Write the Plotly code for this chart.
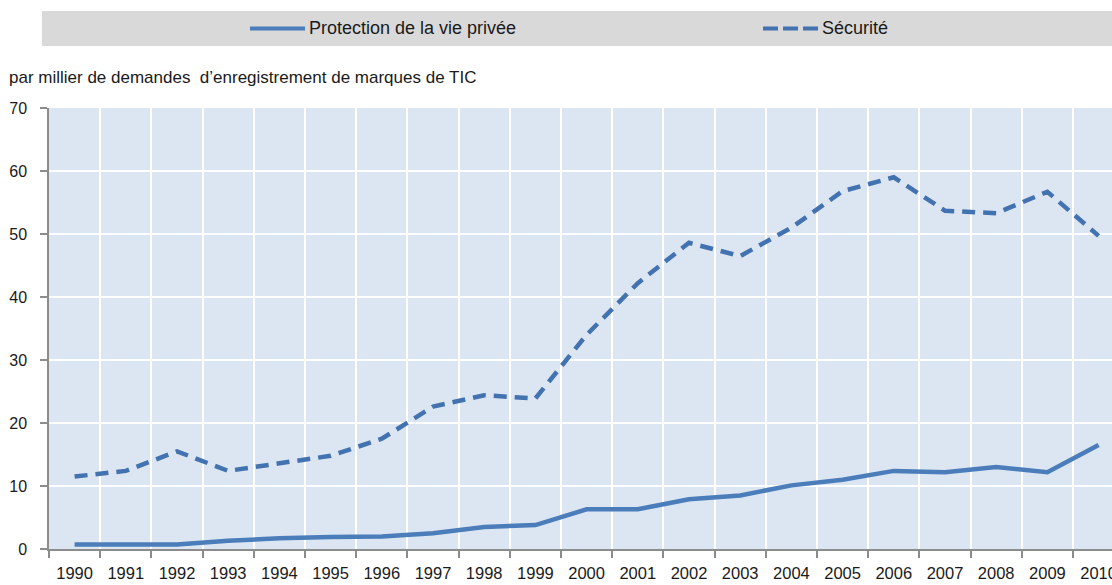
import plotly.graph_objects as go

years = list(range(1990, 2011))
year_labels = [str(y) for y in years]
privacy = [0.7, 0.7, 0.7, 1.3, 1.7, 1.9, 2.0, 2.5, 3.5, 3.8, 6.3, 6.3, 7.9, 8.5, 10.1, 11.0, 12.4, 12.2, 13.0, 12.2, 16.5]
security = [11.5, 12.4, 15.5, 12.4, 13.6, 14.8, 17.5, 22.6, 24.4, 23.9, 34.0, 42.2, 48.6, 46.5, 51.0, 56.8, 59.0, 53.7, 53.3, 56.7, 49.7]
series_names = ["Protection de la vie privée", "Sécurité"]
y_title = "par millier de demandes  d’enregistrement de marques de TIC"

FONT = "Liberation Sans, Arial, sans-serif"
LINE = "#4a7dba"
LINE2 = "#4272b0"
W, H = 1112, 585
ML, MT, MB = 49, 108, 36
PW, PH = W - ML, H - MT - MB
STEP = 51.2
DASH = "13px,8px"

def px(x):
    return (x - ML) / PW

def py(y):
    return (H - MB - y) / PH

fig = go.Figure()
fig.add_trace(go.Scatter(x=years, y=privacy, mode="lines", name=series_names[0],
                         line=dict(color=LINE, width=4.5), showlegend=False))
fig.add_trace(go.Scatter(x=years, y=security, mode="lines", name=series_names[1],
                         line=dict(color=LINE2, width=4.5, dash=DASH), showlegend=False))

shapes = [
    dict(type="rect", xref="paper", yref="paper", x0=px(42), x1=px(1112), y0=py(46), y1=py(11),
         fillcolor="#d9d9d9", line=dict(width=0), layer="below"),
    dict(type="line", xref="paper", yref="paper", x0=px(250), x1=px(305), y0=py(28.5), y1=py(28.5),
         line=dict(color=LINE, width=4)),
    dict(type="line", xref="paper", yref="paper", x0=px(763), x1=px(818), y0=py(28.5), y1=py(28.5),
         line=dict(color=LINE2, width=4, dash="15px,5px")),
]
annotations = [
    dict(text=series_names[0], xref="paper", yref="paper", x=px(307), y=py(28.5), xanchor="left",
         yanchor="middle", showarrow=False, font=dict(family=FONT, size=18, color="#1a1a1a")),
    dict(text=series_names[1], xref="paper", yref="paper", x=px(820), y=py(28.5), xanchor="left",
         yanchor="middle", showarrow=False, font=dict(family=FONT, size=18, color="#1a1a1a")),
    dict(text=y_title, xref="paper", yref="paper", x=px(7), y=py(78), xanchor="left",
         yanchor="middle", showarrow=False, font=dict(family=FONT, size=17, color="#1a1a1a")),
]

fig.update_layout(
    width=W, height=H,
    margin=dict(l=ML, r=0, t=MT, b=MB, pad=0, autoexpand=False),
    paper_bgcolor="white", plot_bgcolor="#dce6f2",
    font=dict(family=FONT, size=16.5, color="#1a1a1a"),
    shapes=shapes, annotations=annotations,
    xaxis=dict(range=[1989.5, 1989.5 + PW / STEP], tickmode="array", tickvals=years, ticktext=year_labels,
               ticks="", showgrid=False, showline=True, linecolor="#8c8c8c", linewidth=1.5,
               zeroline=False, ticklabelstandoff=8, tickangle=0, ticklabeloverflow="allow",
               automargin=False,
               minor=dict(tick0=1989.5, dtick=1, showgrid=True, gridcolor="white", gridwidth=1.5,
                          ticks="outside", ticklen=7, tickcolor="#8c8c8c", tickwidth=1.5)),
    yaxis=dict(range=[0, 70], dtick=10, showgrid=True, gridcolor="white", gridwidth=1.5,
               showline=True, linecolor="#8c8c8c", linewidth=1.5, ticks="outside", ticklen=7,
               tickcolor="#8c8c8c", tickwidth=1.5, zeroline=False, ticklabelstandoff=10,
               tickfont=dict(size=16), automargin=False),
)

fig.write_html("out.html", config={"displayModeBar": False},
               post_script="document.body.style.margin='0';document.body.style.overflow='hidden';")
